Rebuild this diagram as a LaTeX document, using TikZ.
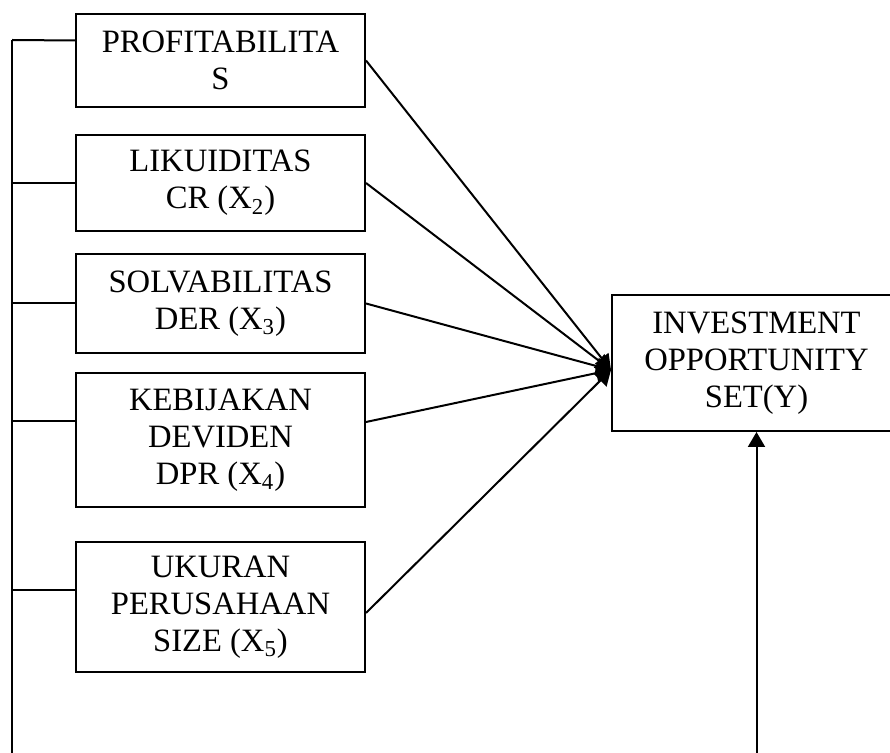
\documentclass[tikz,border=0pt]{standalone}
\usepackage{fontspec}
\setmainfont{Liberation Serif}
\usetikzlibrary{arrows.meta}

\tikzset{
  varbox/.style={draw, line width=1pt, minimum width=144.5pt, align=center, inner sep=0pt,
    font=\fontsize{16.3}{18.5}\selectfont},
  arr/.style={line width=1pt, -{Triangle[length=7.5pt,width=8.5pt]}}
}

\begin{document}
\begin{tikzpicture}[x=0.5pt, y=-0.5pt, line width=1pt]
\useasboundingbox (0,0) rectangle (890,753);
\node[varbox, minimum height=46.5pt] (b1) at (220.5,60.5) {PROFITABILITA\\S};
\node[varbox, minimum height=48pt] (b2) at (220.5,183) {LIKUIDITAS\\CR (X\textsubscript{2})};
\node[varbox, minimum height=49.5pt] (b3) at (220.5,303.5) {SOLVABILITAS\\DER (X\textsubscript{3})};
\node[varbox, minimum height=67pt] (b4) at (220.5,440) {KEBIJAKAN\\DEVIDEN\\DPR (X\textsubscript{4})};
\node[varbox, minimum height=65pt] (b5) at (220.5,607) {UKURAN\\PERUSAHAAN\\SIZE (X\textsubscript{5})};
\node[varbox, minimum height=68pt] (y) at (756.5,363) {INVESTMENT\\OPPORTUNITY\\SET(Y)};
\coordinate (tip) at ([yshift=-3.5pt]y.west);
\coordinate (bustop) at (12,40);
\coordinate (busbot) at (12,753);
\coordinate (ybot) at (y.south |- busbot);
% garis kiri
\draw (bustop) -- (busbot);
\draw ([yshift=10pt]b1.west) -- (bustop);
\foreach \b/\s in {b2/0pt, b3/0pt, b4/9.5pt, b5/8.5pt}
  \draw ([yshift=\s]\b.west) -- ([yshift=\s]\b.west -| bustop);
% panah ke Y
\draw[arr] (b1.east) -- (tip);
\draw[arr] (b2.east) -- (tip);
\draw[arr] (b3.east) -- (tip);
\draw[arr] ([yshift=9pt]b4.east) -- (tip);
\draw[arr] ([yshift=-3pt]b5.east) -- (tip);
\draw[arr] (ybot) -- (y.south);
\end{tikzpicture}
\end{document}
